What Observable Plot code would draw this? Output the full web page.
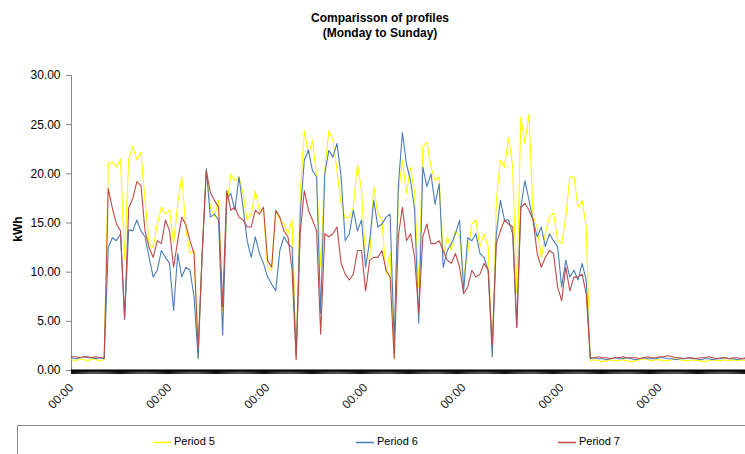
<!DOCTYPE html>
<html><head><meta charset="utf-8">
<script src="https://cdn.jsdelivr.net/npm/d3@7"></script>
<script src="https://cdn.jsdelivr.net/npm/@observablehq/plot@0.6"></script>
<style>
body{margin:0;background:#fff;font-family:"Liberation Sans",Arial,sans-serif;}
#wrap{position:relative;width:745px;height:454px;overflow:hidden;}
#chart{position:absolute;left:0;top:0;}
#title{position:absolute;left:0;width:760px;top:11px;text-align:center;font-weight:bold;font-size:12px;line-height:15px;color:#000;}
#ylabel{position:absolute;left:5px;top:222px;transform:rotate(-90deg);transform-origin:center;font-weight:bold;font-size:12px;color:#000;}
#legend{position:absolute;left:17px;top:425px;width:800px;height:60px;border:1px solid #888;background:#fff;}
.item{position:absolute;top:9px;font-size:11px;line-height:13px;color:#000;white-space:nowrap;display:flex;align-items:center;}
.item svg{margin-right:3px;}
</style>
</head><body>
<div id="wrap">
  <div id="chart"></div>
  <div id="title">Comparisson of profiles<br>(Monday to Sunday)</div>
  <div id="ylabel">kWh</div>
  <div id="legend"></div>
</div>
<script>
// hourly index (Monday 00:00 = 0)
const hours = d3.range(0, 166);
const seriesNames = ["Period 5", "Period 6", "Period 7"];
const seriesColors = ["#FFFF00", "#4A7EBB", "#BE4B48"];
const yTicks = [0, 5, 10, 15, 20, 25, 30];
const dayTicks = [0, 24, 48, 72, 96, 120, 144];
const dayLabels = ["00:00", "00:00", "00:00", "00:00", "00:00", "00:00", "00:00"];

const period5 = [
  1.1,1.0,1.2,1.1,1.0,1.2,1.1,1.0,1.1,21.0,
  21.2,20.7,21.5,11.3,21.5,22.8,21.4,22.2,17.3,12.9,
  12.5,14.9,16.6,15.9,16.3,12.9,17.0,19.7,14.4,11.9,
  12.2,1.2,12.0,20.5,16.6,15.6,17.3,5.4,16.5,20.0,
  19.3,19.7,18.0,15.3,15.9,18.3,16.3,16.3,10.5,10.2,
  16.3,15.3,14.9,13.9,15.3,1.6,18.0,24.4,22.0,23.4,
  19.7,10.5,20.3,24.4,23.4,20.3,17.0,15.5,15.6,16.6,
  21.0,18.3,11.2,11.5,18.7,15.9,15.3,9.8,12.0,1.3,
  18.0,21.4,18.0,20.7,18.0,8.5,22.7,23.2,20.7,19.3,
  19.7,11.5,13.6,12.2,14.2,13.6,9.5,12.0,14.9,15.3,
  12.6,13.9,12.6,1.4,17.3,21.4,20.7,23.7,20.7,7.8,
  25.8,23.1,26.1,15.6,14.6,11.5,13.9,15.6,16.0,13.2,
  12.9,15.6,19.7,19.7,16.6,17.3,14.6,1.0,1.1,1.0,
  0.9,1.0,1.1,1.0,1.0,1.1,1.0,0.9,1.0,1.1,
  1.2,1.1,1.0,1.1,1.1,1.0,1.0,1.1,1.2,1.1,
  1.0,1.0,1.1,1.0,1.0,0.9,1.0,1.1,1.0,1.0,
  1.1,1.0,1.1,1.0,1.1,1.0
];
const period6 = [
  1.3,1.2,1.3,1.4,1.3,1.3,1.2,1.3,1.2,12.5,
  13.5,13.2,13.9,5.2,14.3,14.2,15.3,14.2,13.6,11.5,
  9.5,10.2,12.2,11.5,10.9,6.1,11.9,9.5,10.5,10.2,
  7.5,1.2,12.0,20.5,15.6,15.9,15.3,3.6,17.5,18.0,
  16.3,19.7,16.6,13.2,11.5,13.6,11.9,10.9,9.5,8.8,
  8.1,12.2,13.6,12.9,12.5,1.4,16.0,21.4,22.4,20.3,
  19.7,5.8,20.0,22.4,21.7,23.1,19.7,13.2,13.9,16.3,
  14.2,15.3,10.5,13.2,17.3,14.6,14.9,15.6,15.9,2.8,
  18.7,24.2,21.0,19.3,16.3,4.8,20.7,18.7,20.0,16.9,
  19.0,10.5,12.2,12.9,13.9,15.3,8.1,13.5,13.2,13.9,
  11.9,11.5,10.2,1.4,13.9,17.3,15.3,15.3,13.9,4.4,
  16.6,19.3,17.3,15.3,13.6,14.6,12.6,13.9,13.2,12.6,
  8.5,11.2,9.5,10.2,9.2,10.9,9.2,1.2,1.3,1.2,
  1.2,1.1,1.2,1.3,1.2,1.2,1.3,1.2,1.1,1.2,
  1.3,1.2,1.2,1.2,1.3,1.3,1.2,1.2,1.1,1.2,
  1.2,1.3,1.2,1.2,1.1,1.2,1.2,1.1,1.2,1.2,
  1.3,1.2,1.2,1.1,1.2,1.2
];
const period7 = [
  1.4,1.4,1.3,1.4,1.4,1.3,1.4,1.3,1.3,18.5,
  16.5,14.9,14.2,5.4,16.5,17.5,19.2,18.8,14.2,12.5,
  11.5,13.2,12.9,15.3,14.2,10.5,13.2,15.6,14.8,13.2,
  11.9,2.2,12.0,20.3,18.1,17.3,16.6,6.5,18.3,16.3,
  16.6,15.6,15.3,14.6,14.6,16.3,15.9,16.6,11.2,10.5,
  16.3,15.6,14.2,13.6,10.2,1.1,14.0,18.3,16.3,15.3,
  14.2,3.7,13.9,13.6,13.9,14.6,10.9,9.8,9.2,9.8,
  12.2,12.2,8.1,11.2,11.5,11.5,12.2,10.2,9.5,1.2,
  13.6,16.6,13.2,13.9,11.5,5.8,13.6,14.9,12.9,12.9,
  13.2,12.2,11.2,10.9,11.9,10.5,7.8,8.5,10.2,9.5,
  9.8,10.9,10.2,2.6,12.9,14.2,15.3,14.9,14.6,4.4,
  16.6,17.0,16.3,15.3,11.9,10.5,11.5,12.2,11.9,8.5,
  7.1,10.5,8.1,9.5,9.5,9.8,7.8,1.3,1.3,1.4,
  1.3,1.3,1.2,1.3,1.3,1.4,1.3,1.3,1.3,1.2,
  1.3,1.4,1.3,1.3,1.4,1.4,1.5,1.4,1.3,1.3,
  1.2,1.3,1.3,1.2,1.3,1.3,1.4,1.3,1.2,1.3,
  1.3,1.2,1.3,1.3,1.2,1.3
];

const seriesValues = [period5, period6, period7];
const rows = seriesValues.map((vals, k) => hours.map((h, i) => ({h, v: vals[i], s: seriesNames[k]})));

const chart = Plot.plot({
  width: 745,
  height: 454,
  marginLeft: 71,
  marginRight: 0,
  marginTop: 75,
  marginBottom: 84,
  x: {domain: [0, 165]},
  y: {domain: [0, 30]},
  style: {fontFamily: "'Liberation Sans', Arial, sans-serif", fontSize: "12px", background: "transparent", color: "#000"},
  marks: [
    Plot.axisY({ticks: yTicks, tickFormat: d3.format(".2f"), tickSize: 5, tickPadding: 6, stroke: "#888", label: null, fontSize: 12}),
    Plot.ruleX([0], {stroke: "#888"}),
    ...rows.map((r, k) => Plot.line(r, {x: "h", y: "v", stroke: seriesColors[k], strokeWidth: 1.1})),
    Plot.axisX({ticks: d3.range(0, 165.001, 0.25), tickSize: 4, tickFormat: () => "", label: null, stroke: "#111"}),
    Plot.ruleY([0], {stroke: "#000", strokeWidth: 2}),
    Plot.axisX({ticks: dayTicks, tickSize: 0, tickPadding: 15, tickRotate: -45, tickFormat: d => dayLabels[dayTicks.indexOf(d)], label: null, fontSize: 12, fill: "#222"})
  ]
});
document.getElementById("chart").appendChild(chart);

const legendPos = [135, 338, 540];
const legend = d3.select("#legend");
seriesNames.forEach((name, k) => {
  const it = legend.append("div").attr("class", "item").style("left", legendPos[k] + "px");
  const svg = it.append("svg").attr("width", 18).attr("height", 6);
  svg.append("line").attr("x1", 0).attr("x2", 18).attr("y1", 3.5).attr("y2", 3.5)
    .attr("stroke", seriesColors[k]).attr("stroke-width", 1.5);
  it.append("span").text(name);
});
</script>
</body></html>
